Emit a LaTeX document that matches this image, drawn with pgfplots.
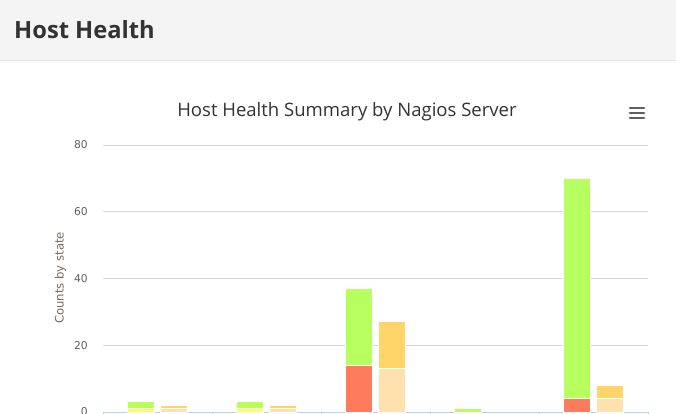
\documentclass[border=0pt]{standalone}
\usepackage{pgfplots}
\pgfplotsset{compat=1.18}
\usepackage{fontspec}
\setmainfont{Open Sans}
\newfontfamily\titlefont{Open Sans}
\newfontfamily\labelfont{DejaVu Sans}
\definecolor{headerbg}{HTML}{F4F4F4}
\definecolor{headerline}{HTML}{E3E3E3}
\definecolor{headertext}{HTML}{333333}
\definecolor{titletext}{HTML}{333333}
\definecolor{gridgray}{HTML}{D8D8D8}
\definecolor{axisblue}{HTML}{C0D0E0}
\definecolor{ticktext}{HTML}{606060}
\definecolor{ylabtext}{HTML}{756B63}
\definecolor{upgreen}{HTML}{B6FF5E}
\definecolor{downred}{HTML}{FF7B5E}
\definecolor{unreachyellow}{HTML}{FFFA6B}
\definecolor{warnorange}{HTML}{FFD56A}
\definecolor{ackbeige}{HTML}{FFE1AE}
\begin{document}
\begin{tikzpicture}
\useasboundingbox (0bp,0bp) rectangle (676bp,-414bp);
\fill[white] (0bp,0bp) rectangle (676bp,-414bp);
\fill[headerbg] (0bp,0bp) rectangle (676bp,-60bp);
\draw[headerline, line width=1bp] (0bp,-60.5bp) -- (676bp,-60.5bp);
\node[anchor=base west, font=\bfseries\fontsize{23.8}{26}\selectfont, text=headertext, inner sep=0] at (14bp,-38.5bp) {Host Health};
\node[anchor=base, font=\titlefont\fontsize{18.6}{20}\selectfont, text=titletext, inner sep=0] at (347bp,-116bp) {Host Health Summary by Nagios Server};
\foreach \yy in {108,113,118} \draw[color=ticktext, line width=2.8bp, line cap=round] (630bp,-\yy bp) -- (644bp,-\yy bp);
\begin{scope}
\clip (0bp,0bp) rectangle (676bp,-414bp);
\begin{axis}[
  at={(103bp,-412bp)}, anchor=south west,
  scale only axis, width=545bp, height=267bp,
  xmin=0.5, xmax=5.5, ymin=0, ymax=80,
  axis x line*=bottom, axis y line*=left,
  x axis line style={color=axisblue, line width=1bp, -},
  y axis line style={draw=none, -},
  xtick={0.5,1.5,2.5,3.5,4.5,5.5}, xticklabels={},
  x tick style={color=axisblue, line width=1bp},
  xtick align=outside, major tick length=10bp,
  ytick={0,20,40,60,80},
  y tick style={draw=none},
  ymajorgrids, grid style={color=gridgray, line width=1bp},
  /pgf/number format/assume math mode=true,
  yticklabel style={font=\labelfont\fontsize{10.8}{12}\selectfont, text=ticktext, inner sep=0, xshift=-15bp},
  ylabel={Counts by state},
  every axis y label/.style={at={(axis description cs:-0.078,0.502)}, rotate=90, anchor=center, font=\labelfont\fontsize{11.7}{13}\selectfont, text=ylabtext},
  ybar stacked, bar width=27bp, bar shift=-16.5bp,
  every axis plot/.append style={draw=white, line width=1bp},
]
% bottom of stack first: unreachable, down, up
\addplot[fill=unreachyellow] coordinates {(1,1) (2,1) (3,0) (4,0) (5,0)};
\addplot[fill=downred] coordinates {(1,0) (2,0) (3,14) (4,0) (5,4)};
\addplot[fill=upgreen] coordinates {(1,2) (2,2) (3,23) (4,1) (5,66)};
\end{axis}
\begin{axis}[
  at={(103bp,-412bp)}, anchor=south west,
  scale only axis, width=545bp, height=267bp,
  xmin=0.5, xmax=5.5, ymin=0, ymax=80,
  axis lines=none, ticks=none,
  ybar stacked, bar width=27bp, bar shift=16.5bp,
  every axis plot/.append style={draw=white, line width=1bp},
]
\addplot[fill=ackbeige] coordinates {(1,1) (2,1) (3,13) (4,0) (5,4)};
\addplot[fill=warnorange] coordinates {(1,1) (2,1) (3,14) (4,0) (5,4)};
\end{axis}
\end{scope}
\end{tikzpicture}
\end{document}
